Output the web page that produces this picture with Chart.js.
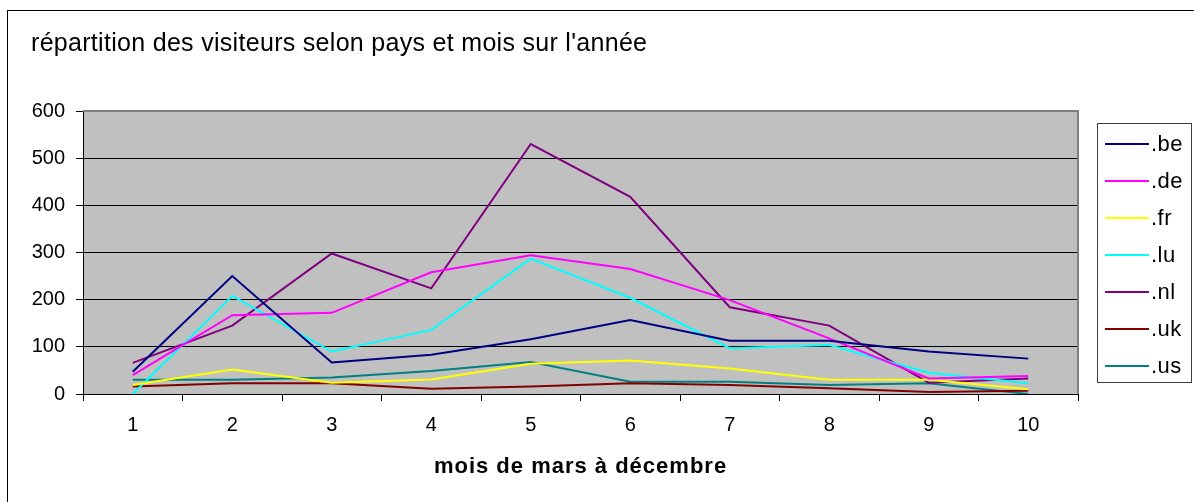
<!DOCTYPE html>
<html lang="fr">
<head>
  <meta charset="UTF-8">
  <title>répartition des visiteurs</title>
  <style>
    body {
      margin: 0;
      padding: 0;
      background-color: white;
    }

    #wrap {
      width: 1194px;
      height: 502px;
    }
  </style>
  <script src="https://cdn.jsdelivr.net/npm/chart.js"></script>
</head>
<body>

  <div id="wrap">
    <canvas id="visitChart" width="1194" height="502"></canvas>
  </div>

  <script>
    // mois 1..10 (mars à décembre)
    const months = ['1', '2', '3', '4', '5', '6', '7', '8', '9', '10'];
    const yTicks = [0, 100, 200, 300, 400, 500, 600];

    const be = [47, 250, 67, 83, 116, 157, 113, 113, 90, 75];
    const de = [40, 167, 172, 258, 294, 265, 199, 118, 33, 38];
    const fr = [19, 52, 24, 31, 64, 71, 54, 30, 30, 10];
    const lu = [0, 208, 90, 136, 287, 204, 97, 104, 45, 23];
    const nl = [66, 145, 298, 224, 530, 418, 184, 145, 24, 33];
    const uk = [16, 23, 23, 11, 16, 23, 19, 12, 4, 7];
    const us = [30, 30, 35, 49, 68, 26, 26, 19, 23, 0];

    const seriesNames = ['.be', '.de', '.fr', '.lu', '.nl', '.uk', '.us'];
    const seriesData = [be, de, fr, lu, nl, uk, us];
    const seriesColors = ['#000080', '#FF00FF', '#FFFF00', '#00FFFF', '#800080', '#800000', '#008080'];

    const FONT = '"Liberation Sans", Arial, sans-serif';

    // gray plot area + frames + title + legend
    const excelLook = {
      id: 'excelLook',
      beforeDraw(chart) {
        const ctx = chart.ctx;
        const a = chart.chartArea;
        ctx.save();
        ctx.fillStyle = 'white';
        ctx.fillRect(0, 0, chart.width, chart.height);
        ctx.fillStyle = '#C0C0C0';
        ctx.fillRect(a.left, a.top, a.right - a.left, a.bottom - a.top);
        ctx.restore();
      },
      afterDraw(chart) {
        const ctx = chart.ctx;
        const a = chart.chartArea;
        ctx.save();

        // outer frame
        ctx.strokeStyle = '#000000';
        ctx.lineWidth = 1;
        ctx.strokeRect(7.5, 10.5, chart.width + 10, chart.height + 10);

        // plot frame top / right in gray
        ctx.strokeStyle = '#808080';
        ctx.lineWidth = 2;
        ctx.beginPath();
        ctx.moveTo(a.left, a.top);
        ctx.lineTo(a.right, a.top);
        ctx.lineTo(a.right, a.bottom);
        ctx.stroke();

        // title
        ctx.fillStyle = '#000000';
        ctx.font = '25px ' + FONT;
        ctx.letterSpacing = '0.3px';
        ctx.textBaseline = 'alphabetic';
        ctx.textAlign = 'left';
        ctx.fillText("répartition des visiteurs selon pays et mois sur l'année", 31, 51);

        // x axis title
        ctx.font = 'bold 22px ' + FONT;
        ctx.letterSpacing = '1px';
        ctx.textAlign = 'center';
        ctx.textBaseline = 'middle';
        ctx.fillText('mois de mars à décembre', (a.left + a.right) / 2, 467);

        // legend
        const lx = 1097, ly = 123, lw = 94, lh = 259;
        ctx.fillStyle = 'white';
        ctx.fillRect(lx, ly, lw, lh);
        ctx.strokeStyle = '#404040';
        ctx.lineWidth = 1;
        ctx.strokeRect(lx + 0.5, ly + 0.5, lw, lh);
        ctx.font = '22px ' + FONT;
        ctx.letterSpacing = '0.5px';
        ctx.textAlign = 'left';
        chart.data.datasets.forEach((ds, i) => {
          const y = 144 + i * 37;
          ctx.strokeStyle = ds.borderColor;
          ctx.lineWidth = 2;
          ctx.beginPath();
          ctx.moveTo(1105, y);
          ctx.lineTo(1149, y);
          ctx.stroke();
          ctx.fillStyle = '#000000';
          ctx.fillText(ds.label, 1151, y + 1);
        });

        ctx.restore();
      }
    };

    const ctx = document.getElementById('visitChart').getContext('2d');
    const chart = new Chart(ctx, {
      type: 'line',
      data: {
        labels: months,
        datasets: seriesNames.map((name, i) => ({
          label: name,
          data: seriesData[i],
          borderColor: seriesColors[i],
          backgroundColor: seriesColors[i],
          borderWidth: 2,
          pointRadius: 0,
          tension: 0,
          fill: false
        }))
      },
      options: {
        responsive: false,
        animation: false,
        layout: {
          padding: { left: 0, top: 111, right: 116, bottom: 0 }
        },
        plugins: {
          legend: { display: false },
          title: { display: false },
          tooltip: { enabled: false }
        },
        scales: {
          x: {
            offset: true,
            grid: {
              offset: true,
              drawOnChartArea: false,
              drawTicks: true,
              tickLength: 7,
              color: '#000000',
              lineWidth: 1
            },
            border: { color: '#000000', width: 1 },
            ticks: {
              color: '#000000',
              font: { family: FONT, size: 20 },
              padding: 12,
              maxRotation: 0
            },
            afterFit(scale) { scale.height = 108; }
          },
          y: {
            min: 0,
            max: 600,
            afterBuildTicks(scale) {
              scale.ticks = yTicks.map(v => ({ value: v }));
            },
            grid: {
              color: (c) => c.tick && c.tick.value === 600 ? '#808080' : '#000000',
              lineWidth: 1,
              drawTicks: true,
              tickLength: 7,
              tickColor: '#000000'
            },
            border: { color: '#000000', width: 1 },
            ticks: {
              color: '#000000',
              font: { family: FONT, size: 20 },
              padding: 11
            },
            afterFit(scale) { scale.width = 83; }
          }
        }
      },
      plugins: [excelLook]
    });
  </script>

</body>
</html>
